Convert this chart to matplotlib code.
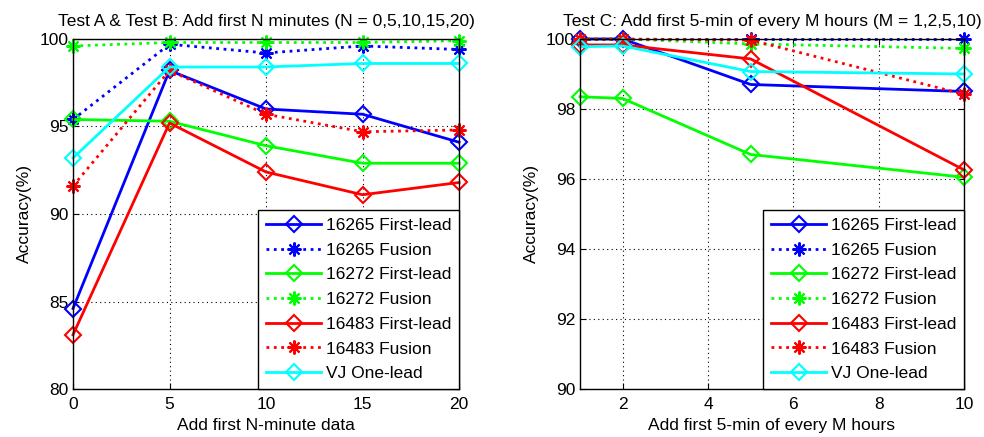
import matplotlib
matplotlib.use("Agg")
import matplotlib.pyplot as plt

plt.rcParams["font.family"] = ["Liberation Sans", "DejaVu Sans"]

# Test A & B: add first N minutes
n_minutes = [0, 5, 10, 15, 20]
a_16265_first = [84.6, 98.2, 96.0, 95.7, 94.1]
a_16265_fusion = [95.4, 99.7, 99.2, 99.6, 99.4]
a_16272_first = [95.4, 95.3, 93.9, 92.9, 92.9]
a_16272_fusion = [99.6, 99.8, 99.8, 99.8, 99.9]
a_16483_first = [83.1, 95.2, 92.4, 91.1, 91.8]
a_16483_fusion = [91.6, 98.2, 95.7, 94.7, 94.8]
a_vj_one = [93.2, 98.4, 98.4, 98.6, 98.6]

# Test C: add first 5-min of every M hours
m_hours = [1, 2, 5, 10]
c_16265_first = [100.0, 100.0, 98.7, 98.5]
c_16265_fusion = [100.0, 100.0, 100.0, 100.0]
c_16272_first = [98.35, 98.3, 96.7, 96.05]
c_16272_fusion = [100.0, 100.0, 99.86, 99.73]
c_16483_first = [99.83, 99.83, 99.43, 96.26]
c_16483_fusion = [100.0, 100.0, 99.97, 98.42]
c_vj_one = [99.78, 99.8, 99.07, 99.0]

labels = ["16265 First-lead", "16265 Fusion", "16272 First-lead", "16272 Fusion",
          "16483 First-lead", "16483 Fusion", "VJ One-lead"]
colors = ["#0000ff", "#0000ff", "#00ff00", "#00ff00", "#ff0000", "#ff0000", "#00ffff"]
styles = ["-", ":", "-", ":", "-", ":", "-"]
markers = ["D", (8, 2, 0), "D", (8, 2, 0), "D", (8, 2, 0), "D"]

FS = 12.5


def draw(ax, x, series, title, xlabel, ylim, yticks, xlim, xticks):
    for ys, lab, c, ls, mk in zip(series, labels, colors, styles, markers):
        if mk == "D":
            ax.plot(x, ys, ls, color=c, lw=2, marker="D", ms=8.5, mfc="none",
                    mec=c, mew=1.5, label=lab, clip_on=False)
        else:
            ax.plot(x, ys, ls, color=c, lw=2, marker=mk, ms=10, mec=c,
                    mew=1.5, label=lab, clip_on=False)
    ax.set_xlim(*xlim)
    ax.set_ylim(*ylim)
    ax.set_xticks(xticks)
    ax.set_yticks(yticks)
    ax.grid(True, color="black", linestyle=(0, (1, 3)), lw=0.8)
    ax.tick_params(axis="both", direction="in", labelsize=FS, length=4,
                   top=True, right=True)
    ax.tick_params(axis="x", pad=6)
    for s in ax.spines.values():
        s.set_linewidth(1.0)
    ax.set_title(title, fontsize=FS, pad=9)
    ax.set_xlabel(xlabel, fontsize=FS, labelpad=4)
    ax.set_ylabel("Accuracy(%)", fontsize=FS, labelpad=5)
    leg = ax.legend(loc="lower right", borderaxespad=0, fontsize=FS,
                    fancybox=False, framealpha=1, edgecolor="black",
                    handlelength=3.2, labelspacing=0.55, borderpad=0.45,
                    handletextpad=0.25)
    leg.get_frame().set_linewidth(1.0)


fig = plt.figure(figsize=(9.84, 4.37), dpi=100)
ax1 = fig.add_axes([0.0742, 0.1098, 0.3923, 0.801])
ax2 = fig.add_axes([0.5894, 0.1098, 0.3903, 0.801])

draw(ax1, n_minutes,
     [a_16265_first, a_16265_fusion, a_16272_first, a_16272_fusion,
      a_16483_first, a_16483_fusion, a_vj_one],
     "Test A & Test B: Add first N minutes (N = 0,5,10,15,20)",
     "Add first N-minute data", (80, 100), [80, 85, 90, 95, 100],
     (0, 20), [0, 5, 10, 15, 20])

draw(ax2, m_hours,
     [c_16265_first, c_16265_fusion, c_16272_first, c_16272_fusion,
      c_16483_first, c_16483_fusion, c_vj_one],
     "Test C: Add first 5-min of every M hours (M = 1,2,5,10)",
     "Add first 5-min of every M hours", (90, 100), [90, 92, 94, 96, 98, 100],
     (1, 10), [2, 4, 6, 8, 10])

fig.savefig("out.png", dpi=100)
